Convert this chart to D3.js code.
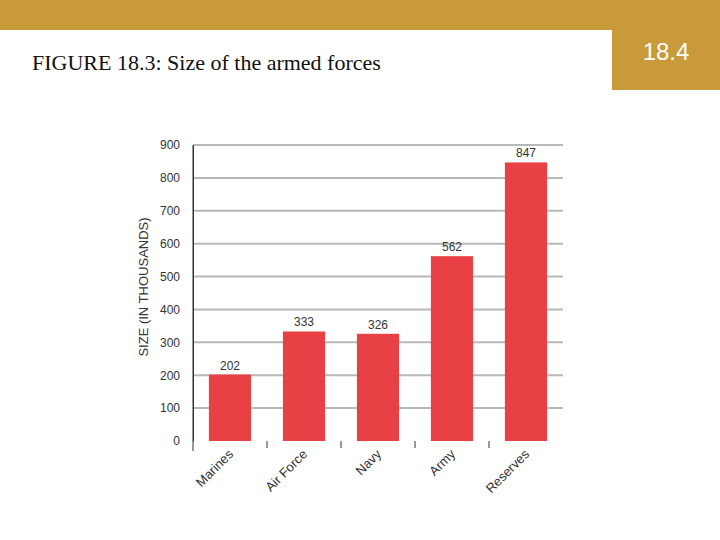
<!DOCTYPE html><html><head><meta charset="utf-8"><script src="https://cdn.jsdelivr.net/npm/d3@7"></script>
<style>body{margin:0;background:#fff}</style></head><body><svg id="c" width="720" height="540"></svg>
<script>
const categories=["Marines","Air Force","Navy","Army","Reserves"];
const values=[202,333,326,562,847];
const yTicks=[0,100,200,300,400,500,600,700,800,900];
const svg=d3.select("#c");
const gold="#C89A3A";
svg.append("rect").attr("x",0).attr("y",0).attr("width",720).attr("height",30).attr("fill",gold);
svg.append("rect").attr("x",612).attr("y",0).attr("width",108).attr("height",90).attr("fill",gold);
svg.append("text").attr("x",666).attr("y",60).attr("text-anchor","middle").attr("fill","#fff").attr("font-family","Liberation Sans, Arial").attr("font-size",24).text("18.4");
svg.append("text").attr("x",32).attr("y",70).attr("font-family","Liberation Serif, Times New Roman").attr("font-size",22).attr("fill","#111").text("FIGURE 18.3: Size of the armed forces");
const x=d3.scaleBand().domain(categories).range([193,563]).paddingInner(0.43).paddingOuter(0.215);
const y=d3.scaleLinear().domain([0,900]).range([441,145]);
const g=svg.append("g");
g.selectAll("line.grid").data(yTicks.slice(1)).join("line").attr("x1",193).attr("x2",563).attr("y1",d=>y(d)).attr("y2",d=>y(d)).attr("stroke","#b8b8b8").attr("stroke-width",2);
g.selectAll("rect.bar").data(values).join("rect").attr("x",(d,i)=>x(categories[i])).attr("width",x.bandwidth()).attr("y",d=>y(d)).attr("height",d=>441-y(d)).attr("fill","#E84044");
g.selectAll("text.v").data(values).join("text").attr("x",(d,i)=>x(categories[i])+x.bandwidth()/2).attr("y",d=>y(d)-5).attr("text-anchor","middle").attr("font-family","Liberation Sans, Arial").attr("font-size",12).attr("fill","#333").text(d=>d);
const ya=svg.append("g").attr("transform","translate(193,0)").call(d3.axisLeft(y).tickValues(yTicks).tickSize(0).tickPadding(13));
ya.select(".domain").attr("stroke","#333");
ya.selectAll("text").attr("font-family","Liberation Sans, Arial").attr("font-size",12).attr("fill","#333");
svg.append("line").attr("x1",193).attr("x2",193).attr("y1",145).attr("y2",451).attr("stroke","#333");
// separator ticks
const step=x.step();
[1,2,3,4].forEach(i=>svg.append("line").attr("x1",193+i*step).attr("x2",193+i*step).attr("y1",441).attr("y2",448).attr("stroke","#333"));
svg.selectAll("text.c").data(categories).join("text").attr("font-family","Liberation Sans, Arial").attr("font-size",13).attr("fill","#333").attr("text-anchor","end")
 .attr("transform",d=>`translate(${x(d)+x.bandwidth()/2+4},${455}) rotate(-45)`).text(d=>d);
svg.append("text").attr("transform","translate(148,287) rotate(-90)").attr("text-anchor","middle").attr("font-family","Liberation Sans, Arial").attr("font-size",13).attr("fill","#333").text("SIZE (IN THOUSANDS)");
</script></body></html>
